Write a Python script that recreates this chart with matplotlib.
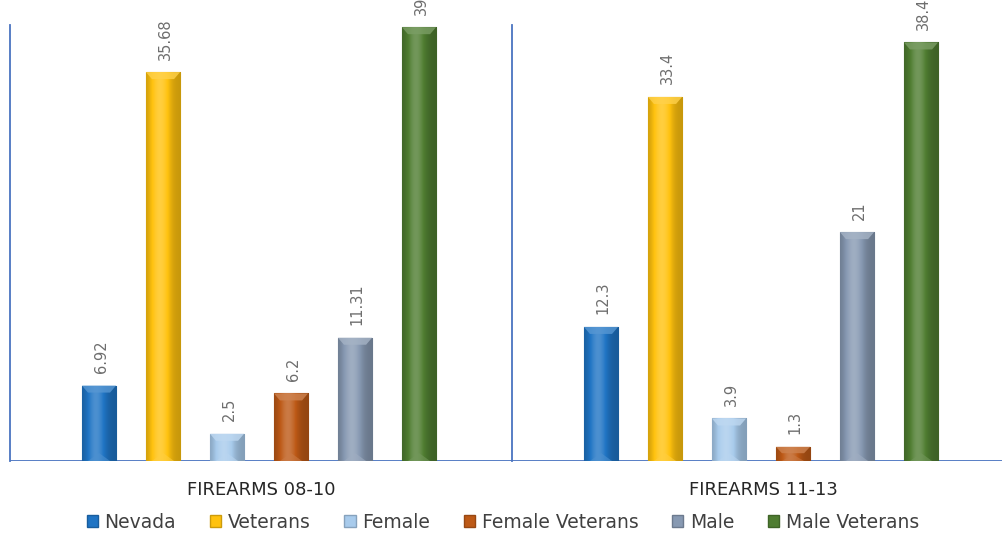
import numpy as np
import matplotlib
matplotlib.use("Agg")
import matplotlib.pyplot as plt
from matplotlib.patches import Polygon, Patch
from matplotlib.colors import to_rgb

# ---- data -------------------------------------------------------------
groups = ["FIREARMS 08-10", "FIREARMS 11-13"]
series = ["Nevada", "Veterans", "Female", "Female Veterans", "Male", "Male Veterans"]
values = {
    "Nevada":          [6.92, 12.3],
    "Veterans":        [35.68, 33.4],
    "Female":          [2.5, 3.9],
    "Female Veterans": [6.2, 1.3],
    "Male":            [11.31, 21],
    "Male Veterans":   [39.8, 38.4],
}
labels = {
    "Nevada":          ["6.92", "12.3"],
    "Veterans":        ["35.68", "33.4"],
    "Female":          ["2.5", "3.9"],
    "Female Veterans": ["6.2", "1.3"],
    "Male":            ["11.31", "21"],
    "Male Veterans":   ["39.8", "38.4"],
}
colors = {
    "Nevada":          "#1f74c4",
    "Veterans":        "#ffc20e",
    "Female":          "#a8cbec",
    "Female Veterans": "#bd5916",
    "Male":            "#8799b2",
    "Male Veterans":   "#4f7d31",
}

# ---- figure -----------------------------------------------------------
W, H, DPI = 1002, 535, 100
fig = plt.figure(figsize=(W / DPI, H / DPI), dpi=DPI)
ax_left, ax_right, ax_bottom, ax_top = 10, 1014, 461, 25   # pixel box
ax = fig.add_axes([ax_left / W, (H - ax_bottom) / H,
                   (ax_right - ax_left) / W, (ax_bottom - ax_top) / H])
ax.set_xlim(0, 2)
ax.set_ylim(0, 40)
ax.axis("off")

axis_col = "#4a74c0"
ax.axhline(0, color=axis_col, lw=1.3, zorder=1)
for xv in (0, 1, 2):
    ax.plot([xv, xv], [0, 40], color=axis_col, lw=1.3, zorder=1, clip_on=False)

px_x = 2.0 / (ax_right - ax_left)      # data units per pixel, x
px_y = 40.0 / (ax_bottom - ax_top)     # data units per pixel, y

spacing = 0.1275
width = 0.068
centers = np.array([0.5, 1.5])
bar_centers = centers - 2 * px_x


def shade(rgb, f):
    rgb = np.array(rgb)
    if f >= 1:
        return rgb + (1 - rgb) * (f - 1)
    return rgb * f


for i, name in enumerate(series):
    xs = bar_centers + (i - 2.5) * spacing
    bars = ax.bar(xs, values[name], width=width, color=colors[name],
                  edgecolor=shade(to_rgb(colors[name]), 0.8), lw=0.8, zorder=2)
    base = to_rgb(colors[name])
    t = np.linspace(0, 1, 64)
    prof = 0.78 + 0.42 * np.exp(-((t - 0.4) / 0.28) ** 2)
    grad = np.array([[shade(base, f) for f in prof]])
    for bar, lab in zip(bars, labels[name]):
        x0, y0 = bar.get_x(), bar.get_y()
        w, h = bar.get_width(), bar.get_height()
        im = ax.imshow(grad, extent=[x0, x0 + w, y0, y0 + h], aspect="auto",
                       zorder=2.1, interpolation="bilinear")
        im.set_clip_path(bar)
        # bevelled top cap
        bv = min(7 * px_y, h * 0.45)
        ins = 6 * px_x
        cap = Polygon([[x0, y0 + h], [x0 + w, y0 + h],
                       [x0 + w - ins, y0 + h - bv], [x0 + ins, y0 + h - bv]],
                      closed=True, facecolor=shade(base, 1.25), edgecolor="none",
                      alpha=0.8, zorder=2.2)
        ax.add_patch(cap)
        # bevelled bottom
        tri = Polygon([[x0 + ins, y0], [x0 + w - ins, y0],
                       [x0 + w / 2, y0 + min(8 * px_y, h * 0.45)]],
                      closed=True, facecolor=shade(base, 1.2), edgecolor="none",
                      alpha=0.6, zorder=2.2)
        ax.add_patch(tri)
        ax.annotate(lab, (x0 + w / 2, y0 + h), xytext=(1.5, 9),
                    textcoords="offset points", rotation=90, ha="center",
                    va="bottom", fontsize=10.5, color="#6e6e6e",
                    annotation_clip=False, zorder=3)

# group labels
for c, g in zip(centers, groups):
    ax.text(c, -29 * px_y, g, ha="center", va="center", fontsize=13,
            color="#262626", transform=ax.transData)

handles = [Patch(facecolor=colors[n], edgecolor=shade(to_rgb(colors[n]), 0.8))
           for n in series]
fig.legend(handles, series, loc="center", bbox_to_anchor=(503 / W, 13 / H),
           ncol=6, frameon=False, fontsize=13.5, handlelength=0.6,
           handleheight=0.6, handletextpad=0.35, columnspacing=1.8,
           labelcolor="#404040")

fig.savefig("out.png", dpi=DPI)
